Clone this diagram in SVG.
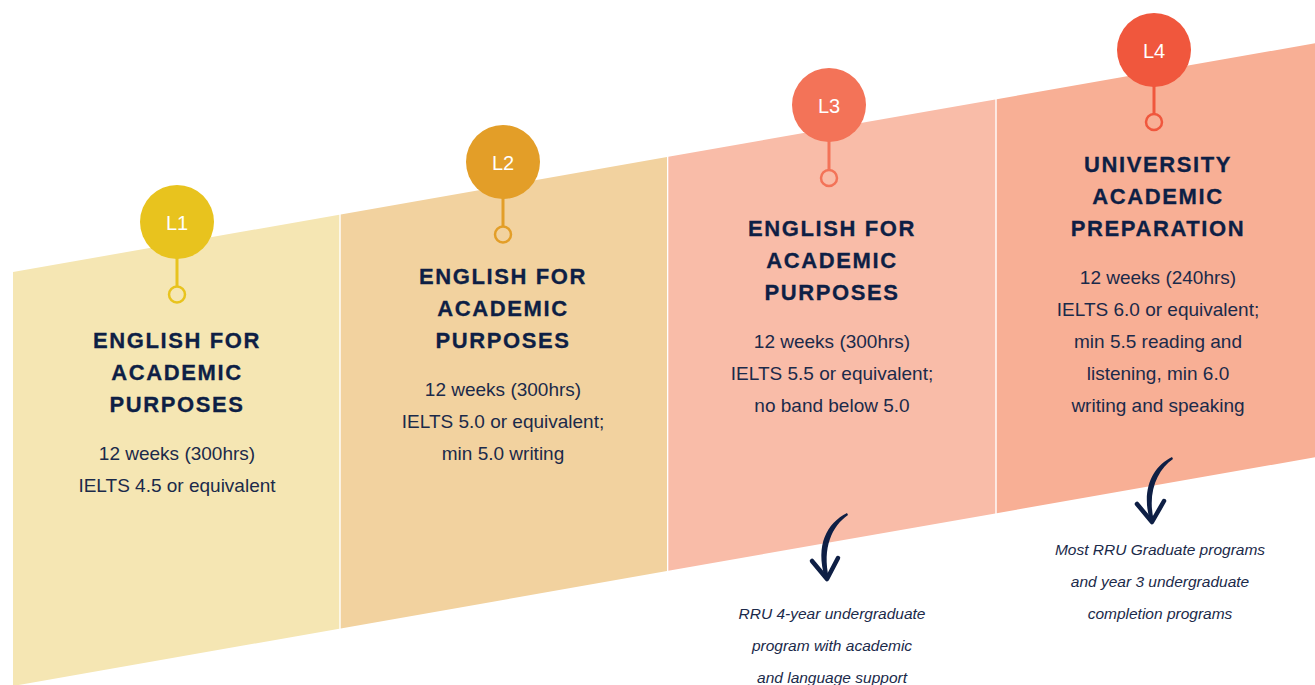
<svg xmlns="http://www.w3.org/2000/svg" width="1315" height="685" viewBox="0 0 1315 685">
<style>
.title{font-family:"Liberation Sans",Arial,sans-serif;font-weight:bold;font-size:22px;letter-spacing:1.6px;fill:#0E1F45;stroke:#0E1F45;stroke-width:0.3;text-anchor:middle}
.body{font-family:"Liberation Sans",Arial,sans-serif;font-size:19px;fill:#1B2A4A;text-anchor:middle}
.note{font-family:"Liberation Sans",Arial,sans-serif;font-style:italic;font-size:15.5px;fill:#1B2A4A;text-anchor:middle}
.lvl{font-family:"Liberation Sans",Arial,sans-serif;font-size:20px;fill:#ffffff;text-anchor:middle}
.ring{fill:none;stroke-width:2.5}
.stem{stroke-width:3}
.arrow{fill:none;stroke:#0E1F45;stroke-width:4.5;stroke-linecap:round;stroke-linejoin:round}
.shaft{fill:#0E1F45}
</style>
<rect width="1315" height="685" fill="#ffffff"/>
<g id="panel-l1">
<polygon points="13,272 339.3,214.7 339.3,628.7 13,686" fill="#F5E6B3"/>
<line class="stem" x1="177" y1="258" x2="177" y2="286" stroke="#E8C31E"/>
<circle class="ring" cx="177" cy="294.5" r="8" stroke="#E8C31E"/>
<circle cx="177" cy="222" r="37" fill="#E8C31E"/>
<text class="lvl" x="177" y="229.5">L1</text>
<text class="title" x="177" y="348">ENGLISH FOR</text>
<text class="title" x="177" y="380">ACADEMIC</text>
<text class="title" x="177" y="412">PURPOSES</text>
<text class="body" x="177" y="460">12 weeks (300hrs)</text>
<text class="body" x="177" y="492">IELTS 4.5 or equivalent</text>
</g>
<g id="panel-l2">
<polygon points="340.7,214.4 667,157.1 667,571.1 340.7,628.4" fill="#F2D29F"/>
<line class="stem" x1="503" y1="198" x2="503" y2="226" stroke="#E39E28"/>
<circle class="ring" cx="503" cy="234.5" r="8" stroke="#E39E28"/>
<circle cx="503" cy="162" r="37" fill="#E39E28"/>
<text class="lvl" x="503" y="169.5">L2</text>
<text class="title" x="503" y="284">ENGLISH FOR</text>
<text class="title" x="503" y="316">ACADEMIC</text>
<text class="title" x="503" y="348">PURPOSES</text>
<text class="body" x="503" y="396">12 weeks (300hrs)</text>
<text class="body" x="503" y="428">IELTS 5.0 or equivalent;</text>
<text class="body" x="503" y="460">min 5.0 writing</text>
</g>
<g id="panel-l3">
<polygon points="668.3,156.8 995.3,99.4 995.3,513.4 668.3,570.8" fill="#F9BCA8"/>
<line class="stem" x1="829" y1="141" x2="829" y2="170" stroke="#F37358"/>
<circle class="ring" cx="829" cy="178" r="8" stroke="#F37358"/>
<circle cx="829" cy="105" r="37" fill="#F37358"/>
<text class="lvl" x="829" y="112.5">L3</text>
<text class="title" x="832" y="236">ENGLISH FOR</text>
<text class="title" x="832" y="268">ACADEMIC</text>
<text class="title" x="832" y="300">PURPOSES</text>
<text class="body" x="832" y="348">12 weeks (300hrs)</text>
<text class="body" x="832" y="380">IELTS 5.5 or equivalent;</text>
<text class="body" x="832" y="412">no band below 5.0</text>
</g>
<g id="panel-l4">
<polygon points="996.7,99.2 1315,43.3 1315,457.3 996.7,513.2" fill="#F8AF95"/>
<line class="stem" x1="1154" y1="86" x2="1154" y2="114" stroke="#F0573D"/>
<circle class="ring" cx="1154" cy="122" r="8" stroke="#F0573D"/>
<circle cx="1154" cy="50" r="37" fill="#F0573D"/>
<text class="lvl" x="1154" y="57.5">L4</text>
<text class="title" x="1158" y="172">UNIVERSITY</text>
<text class="title" x="1158" y="204">ACADEMIC</text>
<text class="title" x="1158" y="236">PREPARATION</text>
<text class="body" x="1158" y="284">12 weeks (240hrs)</text>
<text class="body" x="1158" y="316">IELTS 6.0 or equivalent;</text>
<text class="body" x="1158" y="348">min 5.5 reading and</text>
<text class="body" x="1158" y="380">listening, min 6.0</text>
<text class="body" x="1158" y="412">writing and speaking</text>
</g>
<g id="connectors">
<path class="shaft" d="M847,513 C827,523 815,545 825,578 L829,578 C822,548 832,526 848,515 Z"/>
<path class="arrow" d="M812,561 L827,579 L838,558"/>
<path class="shaft" d="M1172,457 C1152,467 1141,490 1150,521 L1154,521 C1147,493 1157,470 1173,459 Z"/>
<path class="arrow" d="M1137,504 L1152,522 L1164,501"/>
</g>
<g id="note-l3">
<text class="note" x="832" y="619">RRU 4-year undergraduate</text>
<text class="note" x="832" y="651">program with academic</text>
<text class="note" x="832" y="683">and language support</text>
</g>
<g id="note-l4">
<text class="note" x="1160" y="555">Most RRU Graduate programs</text>
<text class="note" x="1160" y="587">and year 3 undergraduate</text>
<text class="note" x="1160" y="619">completion programs</text>
</g>
</svg>
